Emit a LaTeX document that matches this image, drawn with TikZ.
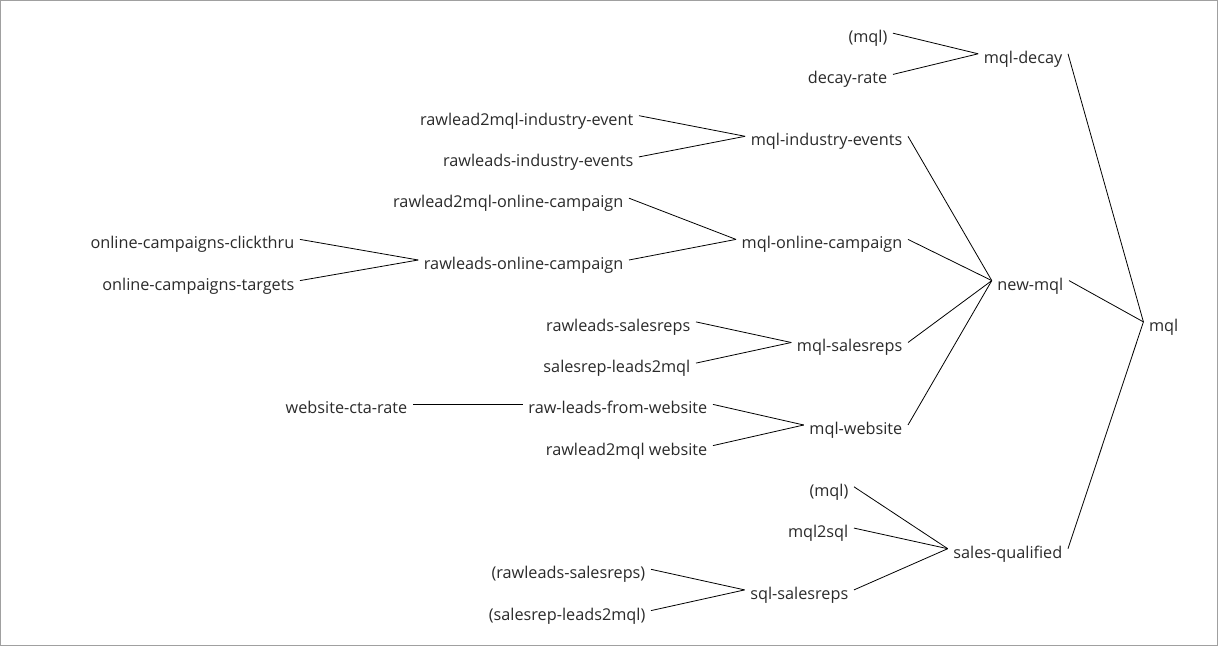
\documentclass[tikz,border=0pt]{standalone}
\usepackage{fontspec}
\setmainfont{Open Sans}
\usepackage{tikz}

\definecolor{labelgray}{HTML}{2A2A2A}
\definecolor{framegray}{HTML}{A0A0A0}

\tikzset{
  lbl/.style={font=\fontsize{16.25bp}{19bp}\selectfont, text=labelgray,
    inner xsep=5.5bp, inner ysep=0pt, text height=19bp, text depth=0pt,
    anchor=base east},
  link/.style={line width=0.8bp, black}
}

\begin{document}
\begin{tikzpicture}[x=1bp,y=-1bp]
            \useasboundingbox (0,0) rectangle (1218,646);
            \draw[framegray, line width=1bp] (0.5,0.5) rectangle (1217.5,645.5);

            % mql branch
            \node[lbl] (mql) at (1184,331.4) {mql};
            \node[lbl] (mqldecay) at (1068,63.3) {mql-decay};
            \node[lbl] (newmql) at (1069,290.1) {new-mql};
            \node[lbl] (salesqual) at (1068,558.2) {sales-qualified};

            % mql-decay
            \node[lbl] (mqlA) at (893,42.7) {(mql)};
            \node[lbl] (decayrate) at (893,83.9) {decay-rate};

            % new-mql
            \node[lbl] (mqlindustry) at (908,145.8) {mql-industry-events};
            \node[lbl] (mqlonline) at (908,248.9) {mql-online-campaign};
            \node[lbl] (mqlsalesreps) at (908,352.0) {mql-salesreps};
            \node[lbl] (mqlwebsite) at (908,434.5) {mql-website};

            \node[lbl] (r2mindustry) at (639,125.2) {rawlead2mql-industry-event};
            \node[lbl] (rawindustry) at (639,166.4) {rawleads-industry-events};

            \node[lbl] (r2monline) at (629,207.7) {rawlead2mql-online-campaign};
            \node[lbl] (rawonline) at (629,269.5) {rawleads-online-campaign};
            \node[lbl] (clickthru) at (300,248.9) {online-campaigns-clickthru};
            \node[lbl] (targets) at (300,290.1) {online-campaigns-targets};

            \node[lbl] (rawsalesreps) at (696,331.4) {rawleads-salesreps};
            \node[lbl] (salesrepl2m) at (696,372.6) {salesrep-leads2mql};

            \node[lbl] (rawwebsite) at (713,413.9) {raw-leads-from-website};
            \node[lbl] (r2mwebsite) at (713,455.1) {rawlead2mql website};
            \node[lbl] (ctarate) at (413,413.9) {website-cta-rate};

            % sales-qualified
            \node[lbl] (mqlB) at (854,496.3) {(mql)};
            \node[lbl] (mql2sql) at (854,537.6) {mql2sql};
            \node[lbl] (sqlsalesreps) at (854,599.4) {sql-salesreps};
            \node[lbl] (rawsalesrepsB) at (651,578.8) {(rawleads-salesreps)};
            \node[lbl] (salesrepl2mB) at (651,620.1) {(salesrep-leads2mql)};

            \draw[link] (mqldecay.east) -- (mql.west);
            \draw[link] (newmql.east) -- (mql.west);
            \draw[link] (salesqual.east) -- (mql.west);

            \draw[link] (mqlA.east) -- (mqldecay.west);
            \draw[link] (decayrate.east) -- (mqldecay.west);

            \draw[link] (mqlindustry.east) -- (newmql.west);
            \draw[link] (mqlonline.east) -- (newmql.west);
            \draw[link] (mqlsalesreps.east) -- (newmql.west);
            \draw[link] (mqlwebsite.east) -- (newmql.west);

            \draw[link] (r2mindustry.east) -- (mqlindustry.west);
            \draw[link] (rawindustry.east) -- (mqlindustry.west);
            \draw[link] (r2monline.east) -- (mqlonline.west);
            \draw[link] (rawonline.east) -- (mqlonline.west);
            \draw[link] (clickthru.east) -- (rawonline.west);
            \draw[link] (targets.east) -- (rawonline.west);
            \draw[link] (rawsalesreps.east) -- (mqlsalesreps.west);
            \draw[link] (salesrepl2m.east) -- (mqlsalesreps.west);
            \draw[link] (rawwebsite.east) -- (mqlwebsite.west);
            \draw[link] (r2mwebsite.east) -- (mqlwebsite.west);
            \draw[link] (ctarate.east) -- (rawwebsite.west);

            \draw[link] (mqlB.east) -- (salesqual.west);
            \draw[link] (mql2sql.east) -- (salesqual.west);
            \draw[link] (sqlsalesreps.east) -- (salesqual.west);
            \draw[link] (rawsalesrepsB.east) -- (sqlsalesreps.west);
            \draw[link] (salesrepl2mB.east) -- (sqlsalesreps.west);
        \end{tikzpicture}
\end{document}
